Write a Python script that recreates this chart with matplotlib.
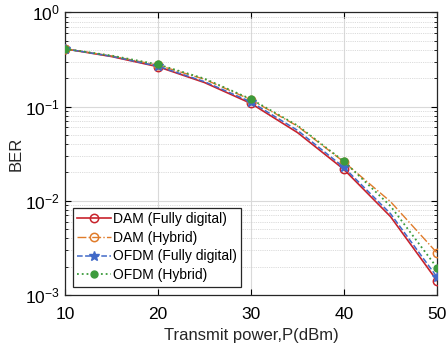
import matplotlib
matplotlib.use("Agg")
import matplotlib.pyplot as plt
from matplotlib.ticker import LogLocator, NullFormatter

plt.rcParams['font.family'] = ['Liberation Sans', 'DejaVu Sans']
plt.rcParams['mathtext.fontset'] = 'custom'
plt.rcParams['mathtext.rm'] = 'Liberation Sans'
plt.rcParams['mathtext.it'] = 'Liberation Sans:italic'

power = [10, 15, 20, 25, 30, 35, 40, 45, 50]
dam_fd = [0.41, 0.34, 0.265, 0.18, 0.108, 0.053, 0.0215, 0.0068, 0.00142]
dam_hy = [0.41, 0.345, 0.275, 0.195, 0.118, 0.062, 0.0258, 0.0098, 0.0028]
ofdm_fd = [0.41, 0.342, 0.268, 0.184, 0.112, 0.056, 0.0226, 0.0073, 0.00155]
ofdm_hy = [0.41, 0.348, 0.28, 0.198, 0.12, 0.063, 0.0262, 0.0088, 0.00195]
labels = ['DAM (Fully digital)', 'DAM (Hybrid)', 'OFDM (Fully digital)', 'OFDM (Hybrid)']
xticks = [10, 20, 30, 40, 50]

fig = plt.figure(figsize=(4.47, 3.54), dpi=100)
ax = fig.add_axes([0.1454, 0.1667, 0.8322, 0.7983])

mk = slice(0, None, 2)
ax.plot(power, dam_fd, '-', color='#C8232C', lw=1.2, marker='o', mfc='none', mec='#C8232C',
        ms=6, mew=1.1, markevery=mk, label=labels[0], zorder=3)
ax.plot(power, dam_hy, '-.', color='#E07B2A', lw=1.0, marker='o', mfc='none', mec='#E07B2A',
        ms=6, mew=1.1, markevery=mk, label=labels[1], zorder=3)
ax.plot(power, ofdm_fd, '--', color='#4169C8', lw=1.1, marker='*', mfc='#4169C8', mec='#4169C8',
        ms=7, markevery=mk, label=labels[2], zorder=4)
ax.plot(power, ofdm_hy, ':', color='#3C9B3C', lw=1.3, marker='o', mfc='#3C9B3C', mec='#3C9B3C',
        ms=5, markevery=mk, label=labels[3], zorder=4)

ax.set_yscale('log')
ax.set_xlim(10, 50)
ax.set_ylim(1e-3, 1)
ax.set_xticks(xticks)
ax.set_xticklabels([str(t) for t in xticks])
ax.yaxis.set_major_locator(LogLocator(base=10, numticks=10))
ax.yaxis.set_minor_locator(LogLocator(base=10, subs=range(2, 10), numticks=20))
ax.yaxis.set_minor_formatter(NullFormatter())

ax.grid(True, which='major', color='#d9d9d9', lw=0.8, ls='-')
ax.grid(True, which='minor', axis='y', color='#cfcfcf', lw=0.6, ls=(0, (1, 1.2)))
ax.set_axisbelow(True)

ax.tick_params(axis='both', which='both', direction='in', top=True, right=True, labelsize=12.5)
ax.tick_params(axis='both', which='major', length=4)
ax.tick_params(axis='x', which='major', pad=9)
ax.tick_params(axis='y', which='major', pad=4)
ax.tick_params(axis='y', which='minor', length=2)
for s in ax.spines.values():
    s.set_linewidth(0.9)
    s.set_color('#262626')

ax.set_xlabel('Transmit power,P(dBm)', fontsize=12, color='#262626', labelpad=4)
ax.set_ylabel('BER', fontsize=12, color='#262626', labelpad=1)

leg = ax.legend(loc='lower left', bbox_to_anchor=(0.022, 0.03), fontsize=10,
                frameon=True, fancybox=False, edgecolor='#262626', framealpha=1,
                borderpad=0.3, labelspacing=0.35, handlelength=2.4, handletextpad=0.2,
                borderaxespad=0)
leg.get_frame().set_linewidth(0.9)

fig.savefig('out.png', dpi=100)
